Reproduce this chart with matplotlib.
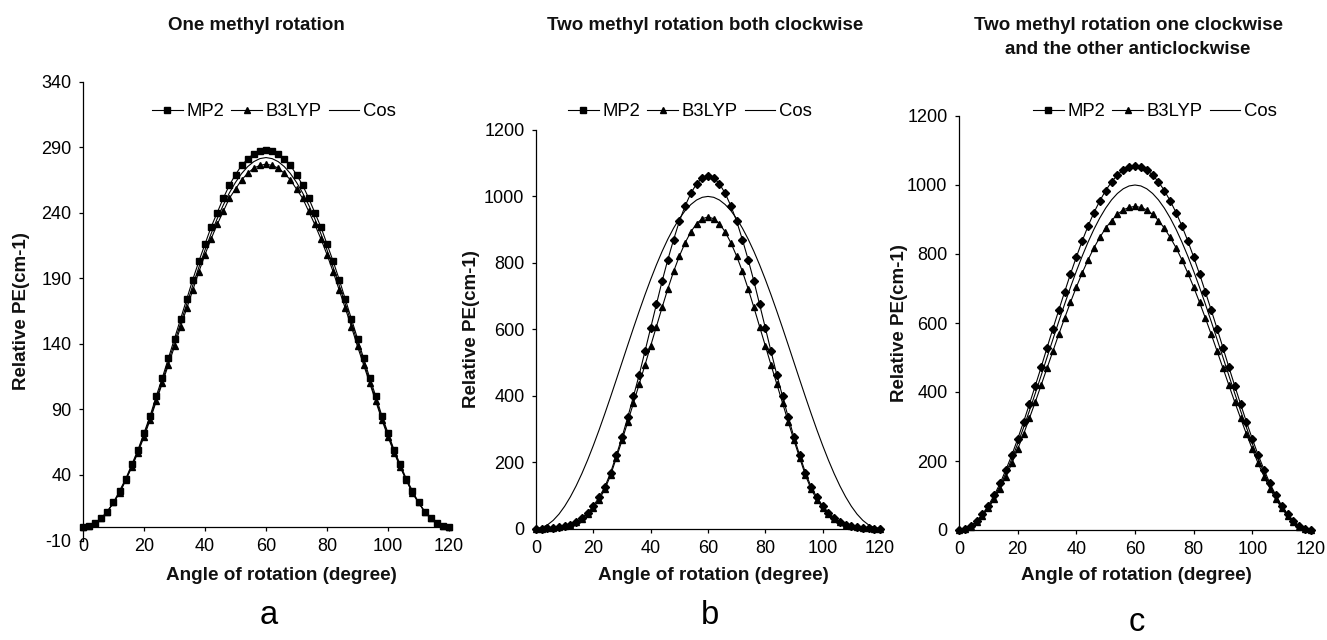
import matplotlib
matplotlib.use('Agg')
import matplotlib.pyplot as plt
from matplotlib.lines import Line2D

# ---------------- data ----------------
angles = list(range(0, 121, 2))

# panel a: one methyl rotation
mp2_a = [0, 1, 3, 7, 12, 19, 28, 37, 48, 59, 72, 85, 100, 114, 129, 144, 159, 174, 189, 203, 216,
         229, 240, 251, 261, 269, 276, 281, 285, 287, 288,
         287, 285, 281, 276, 269, 261, 251, 240, 229, 216, 203, 189, 174, 159, 144, 129, 114, 100,
         85, 72, 59, 48, 37, 28, 19, 12, 7, 3, 1, 0]
b3lyp_a = [0, 1, 3, 7, 12, 19, 26, 36, 46, 57, 69, 82, 96, 110, 124, 138, 153, 167, 181, 195, 208,
           220, 231, 241, 251, 258, 265, 270, 274, 276, 277,
           276, 274, 270, 265, 258, 251, 241, 231, 220, 208, 195, 181, 167, 153, 138, 124, 110, 96,
           82, 69, 57, 46, 36, 26, 19, 12, 7, 3, 1, 0]
cos_a = [0, 0.8, 3.1, 6.9, 12.2, 18.9, 26.9, 36.2, 46.6, 58.1, 70.5, 83.6, 97.4, 111.7, 126.3, 141,
         155.7, 170.3, 184.6, 198.4, 211.5, 223.9, 235.4, 245.8, 255.1, 263.1, 269.8, 275.1, 278.9,
         281.2, 282,
         281.2, 278.9, 275.1, 269.8, 263.1, 255.1, 245.8, 235.4, 223.9, 211.5, 198.4, 184.6, 170.3,
         155.7, 141, 126.3, 111.7, 97.4, 83.6, 70.5, 58.1, 46.6, 36.2, 26.9, 18.9, 12.2, 6.9, 3.1,
         0.8, 0]

# panel b: two methyl rotation both clockwise
mp2_b = [0, 0, 1, 2, 4, 7, 12, 20, 32, 48, 68, 94, 125, 168, 220, 275, 335, 398, 463, 533, 604,
         675, 745, 810, 870, 925, 971, 1009, 1038, 1056, 1062,
         1056, 1038, 1009, 971, 925, 870, 810, 745, 675, 604, 533, 463, 398, 335, 275, 220, 168,
         125, 94, 68, 48, 32, 20, 12, 7, 4, 2, 1, 0, 0]
b3lyp_b = [0, 0, 1, 2, 4, 7, 12, 19, 30, 45, 63, 87, 118, 160, 212, 265, 321, 378, 435, 492, 550,
           608, 666, 722, 774, 820, 860, 893, 918, 933, 938,
           933, 918, 893, 860, 820, 774, 722, 666, 608, 550, 492, 435, 378, 321, 265, 212, 160,
           118, 87, 63, 45, 30, 19, 12, 7, 4, 2, 1, 0, 0]
cos_b = [0, 2.7, 10.9, 24.5, 43.2, 67, 95.5, 128.4, 165.4, 206.1, 250, 296.6, 345.5, 396, 447.7,
         500, 552.3, 604, 654.5, 703.4, 750, 793.9, 834.6, 871.6, 904.5, 933, 956.8, 975.5, 989.1,
         997.3, 1000,
         997.3, 989.1, 975.5, 956.8, 933, 904.5, 871.6, 834.6, 793.9, 750, 703.4, 654.5, 604, 552.3,
         500, 447.7, 396, 345.5, 296.6, 250, 206.1, 165.4, 128.4, 95.5, 67, 43.2, 24.5, 10.9, 2.7, 0]

# panel c: one clockwise, the other anticlockwise
mp2_c = [0, 3, 11.5, 26, 46, 71, 101, 135, 175, 217, 264, 313, 365, 418, 472, 528, 583, 637, 690,
         742, 791, 838, 881, 920, 954, 984, 1009, 1029, 1044, 1052, 1055,
         1052, 1044, 1029, 1009, 984, 954, 920, 881, 838, 791, 742, 690, 637, 583, 528, 472, 418,
         365, 313, 264, 217, 175, 135, 101, 71, 46, 26, 11.5, 3, 0]
b3lyp_c = [0, 3, 10, 23, 41, 63, 90, 120, 155, 193, 234.5, 278, 324, 371, 420, 469, 518, 567, 614,
           660, 704, 745, 783, 818, 848, 875, 897, 915, 928, 935, 938,
           935, 928, 915, 897, 875, 848, 818, 783, 745, 704, 660, 614, 567, 518, 469, 420, 371,
           324, 278, 234.5, 193, 155, 120, 90, 63, 41, 23, 10, 3, 0]
cos_c = [0, 2.7, 10.9, 24.5, 43.2, 67, 95.5, 128.4, 165.4, 206.1, 250, 296.6, 345.5, 396, 447.7,
         500, 552.3, 604, 654.5, 703.4, 750, 793.9, 834.6, 871.6, 904.5, 933, 956.8, 975.5, 989.1,
         997.3, 1000,
         997.3, 989.1, 975.5, 956.8, 933, 904.5, 871.6, 834.6, 793.9, 750, 703.4, 654.5, 604, 552.3,
         500, 447.7, 396, 345.5, 296.6, 250, 206.1, 165.4, 128.4, 95.5, 67, 43.2, 24.5, 10.9, 2.7, 0]

x_ticks = [0, 20, 40, 60, 80, 100, 120]
y_ticks_a = [-10, 40, 90, 140, 190, 240, 290, 340]
y_ticks_bc = [0, 200, 400, 600, 800, 1000, 1200]

titles = ['One methyl rotation',
          'Two methyl rotation both clockwise',
          'Two methyl rotation one clockwise\nand the other anticlockwise']
letters = ['a', 'b', 'c']
legend_labels = ['MP2', 'B3LYP', 'Cos']
xlabel = 'Angle of rotation (degree)'
ylabel = 'Relative PE(cm-1)'

# ---------------- figure ----------------
plt.rcParams['font.family'] = ['Liberation Sans', 'DejaVu Sans']
plt.rcParams['axes.unicode_minus'] = False
W, H = 1327, 640
fig = plt.figure(figsize=(W / 100, H / 100), dpi=100)
fig.patch.set_facecolor('white')


def px_axes(l, r, t, b):
    return fig.add_axes([l / W, 1 - b / H, (r - l) / W, (b - t) / H])


def fy(y):
    return 1 - y / H


panels = [
    dict(box=(83, 449, 81.5, 540.5), ylim=(-10, 340), yticks=y_ticks_a,
         mp2=mp2_a, b3=b3lyp_a, cos=cos_a, mp2_marker='s', mp2_ms=4.2,
         title_x=256, letter_xy=(269, 624), ylab_xy=(22, 311), xlab_xy=(281, 580),
         leg_xy=(274, 112)),
    dict(box=(536, 880, 130, 528.5), ylim=(0, 1200), yticks=y_ticks_bc,
         mp2=mp2_b, b3=b3lyp_b, cos=cos_b, mp2_marker='D', mp2_ms=3.8,
         title_x=705, letter_xy=(710, 624), ylab_xy=(471, 329), xlab_xy=(713, 580),
         leg_xy=(690, 112)),
    dict(box=(959, 1311, 116, 530), ylim=(0, 1200), yticks=y_ticks_bc,
         mp2=mp2_c, b3=b3lyp_c, cos=cos_c, mp2_marker='D', mp2_ms=3.8,
         title_x=1128, letter_xy=(1137, 631), ylab_xy=(899, 323), xlab_xy=(1136, 580),
         leg_xy=(1155, 112)),
]

lw = 0.8
for i, p in enumerate(panels):
    ax = px_axes(*p['box'])
    ax.set_xlim(0, 120)
    ax.set_ylim(*p['ylim'])
    ax.plot(angles, p['cos'], color='black', lw=lw, clip_on=False, zorder=2)
    ax.plot(angles, p['b3'], color='black', lw=lw, marker='^', ms=4.6, clip_on=False, zorder=3)
    ax.plot(angles, p['mp2'], color='black', lw=lw, marker=p['mp2_marker'], ms=p['mp2_ms'],
            clip_on=False, zorder=4)

    for s in ['top', 'right']:
        ax.spines[s].set_visible(False)
    ax.spines['bottom'].set_position(('data', 0))
    for s in ['left', 'bottom']:
        ax.spines[s].set_linewidth(0.9)
        ax.spines[s].set_color('black')
    ax.set_xticks(x_ticks)
    ax.set_yticks(p['yticks'])
    ax.tick_params(axis='both', direction='out', length=3, width=0.9, labelsize=13,
                   colors='black')
    ax.tick_params(axis='x', pad=5)
    ax.tick_params(axis='y', pad=5.3)
    ax.set_facecolor('none')

    h1 = Line2D([], [], color='black', lw=lw, marker='s', ms=4.2)
    h2 = Line2D([], [], color='black', lw=lw, marker='^', ms=4.6)
    h3 = Line2D([], [], color='black', lw=lw)
    lx, ly = p['leg_xy']
    ax.legend([h1, h2, h3], legend_labels, ncol=3, frameon=False, loc='center',
              bbox_to_anchor=(lx / W, fy(ly)), bbox_transform=fig.transFigure,
              handlelength=1.65, handletextpad=0.2, columnspacing=0.4, fontsize=13.3,
              borderpad=0, borderaxespad=0)

    for k, line in enumerate(titles[i].split('\n')):
        fig.text(p['title_x'] / W, fy(30.5 + 23.5 * k), line, ha='center', va='baseline',
                 fontsize=13.5, fontweight='bold', color='#111111')
    yx, yy = p['ylab_xy']
    fig.text(yx / W, fy(yy), ylabel, rotation=90, ha='center', va='center', fontsize=13.5,
             fontweight='bold', color='#111111')
    xx, xy = p['xlab_xy']
    fig.text(xx / W, fy(xy), xlabel, ha='center', va='baseline', fontsize=13.6,
             fontweight='bold', color='#111111')
    lx_, ly_ = p['letter_xy']
    fig.text(lx_ / W, fy(ly_), letters[i], ha='center', va='baseline', fontsize=23.5)

fig.savefig('out.png', dpi=100, facecolor='white')
